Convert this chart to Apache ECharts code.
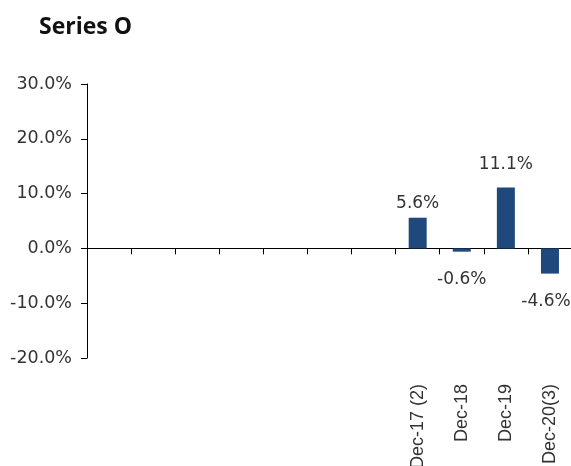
<!DOCTYPE html>
<html>
<head>
<meta charset="utf-8">
<script src="https://cdn.jsdelivr.net/npm/echarts@6/dist/echarts.min.js"></script>
<style>html,body{margin:0;padding:0;background:#fff;}#chart{width:571px;height:466px;}</style>
</head>
<body>
<div id="chart"></div>
<script>
var categories = ['', '', '', '', '', '', '', 'Dec-17 (2)', 'Dec-18', 'Dec-19', 'Dec-20(3)'];
var values = [null, null, null, null, null, null, null, 5.6, -0.6, 11.1, -4.6];
var yTicks = { min: -20, max: 30, interval: 10 };

var chart = echarts.init(document.getElementById('chart'));
var data = values.map(function (v, i) {
  if (v === null) return null;
  var lab = v >= 0 ? { position: 'top', distance: v > 10 ? 14 : 6 } : { position: 'bottom', distance: 19 };
  if (i === values.length - 1) lab.offset = [-4, 0];
  return { value: v, label: lab };
});
chart.setOption({
  animation: false,
  title: {
    text: 'Series O', left: 34, top: 11,
    textStyle: { fontFamily: 'Open Sans', fontWeight: 'bold', fontSize: 23, color: '#111' }
  },
  grid: { left: 87, right: -1, top: 84, bottom: 108, containLabel: false, outerBoundsMode: 'none' },
  xAxis: [{
    type: 'category', data: categories, boundaryGap: true,
    axisLine: { onZero: true, lineStyle: { color: '#000', width: 1 } },
    axisTick: { show: true, inside: false, length: 6, interval: 0, lineStyle: { color: '#000' } },
    axisLabel: { show: false }
  }, {
    type: 'category', data: categories, position: 'bottom', boundaryGap: true,
    axisLine: { show: false, onZero: false }, axisTick: { show: false },
    axisLabel: { rotate: 90, margin: 26, interval: 0, fontFamily: 'Liberation Sans', fontSize: 18, color: '#333' }
  }],
  yAxis: {
    type: 'value', min: yTicks.min, max: yTicks.max, interval: yTicks.interval,
    axisLine: { show: true, lineStyle: { color: '#000', width: 1 } },
    axisTick: { show: true, length: 6, lineStyle: { color: '#000' } },
    splitLine: { show: false },
    axisLabel: { margin: 15, fontFamily: 'DejaVu Sans', fontSize: 17.5, color: '#333',
      formatter: function (v) { return v.toFixed(1) + '%'; } }
  },
  series: [{
    type: 'bar', data: data, barWidth: 18, xAxisIndex: 0,
    itemStyle: { color: '#1F497D' },
    label: { show: true, fontFamily: 'DejaVu Sans', fontSize: 17, color: '#333',
      formatter: function (p) { return p.value.toFixed(1) + '%'; } }
  }]
});
</script>
</body>
</html>
